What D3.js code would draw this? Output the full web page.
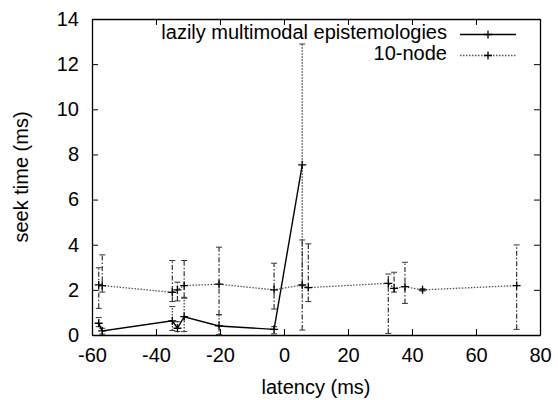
<!DOCTYPE html>
<html>
<head>
<meta charset="utf-8">
<script src="https://cdn.jsdelivr.net/npm/d3@7"></script>
<style>
  body { margin: 0; background: #fff; }
  text { font-family: "Liberation Sans", Arial, sans-serif; }
</style>
</head>
<body>
<div id="chart"></div>
<script>
// latency values (ms), shared by both series
const latency1 = [-57.9, -56.8, -34.9, -33.3, -31.2, -20.3, -3.1, 5.7];
const seek1 = [0.52, 0.18, 0.63, 0.30, 0.81, 0.40, 0.25, 7.54];
const low1 = [0.37, 0.04, 0.20, 0.15, 0.15, 0.02, 0.05, 2.18];
const high1 = [0.77, 0.30, 1.26, 0.59, 1.63, 0.90, 0.37, 12.89];

const latency2 = [-57.9, -56.8, -34.9, -33.3, -31.2, -20.3, -3.1, 5.7, 7.6, 32.6, 34.4, 37.8, 43.3, 72.7];
const seek2 = [2.22, 2.19, 1.89, 2.00, 2.19, 2.25, 2.00, 2.22, 2.10, 2.29, 2.07, 2.14, 2.00, 2.19];
const low2 = [1.18, 1.90, 1.48, 1.51, 1.67, 0.90, 1.15, 0.22, 1.48, 0.07, 1.90, 1.40, 1.95, 0.25];
const high2 = [2.98, 3.55, 3.30, 2.34, 3.30, 3.89, 3.18, 4.21, 4.04, 2.70, 2.78, 3.22, 2.05, 3.99];

const seriesNames = ["lazily multimodal epistemologies", "10-node"];
const xTicks = [-60, -40, -20, 0, 20, 40, 60, 80];
const yTicks = [0, 2, 4, 6, 8, 10, 12, 14];

const margin = { top: 19, right: 18, bottom: 65, left: 92 };
const W = 558, H = 400;
const width = W - margin.left - margin.right;
const height = H - margin.top - margin.bottom;

const svg = d3.select("#chart").append("svg")
    .attr("width", W)
    .attr("height", H);

const chart = svg.append("g")
    .attr("transform", `translate(${margin.left},${margin.top})`);

const x = d3.scaleLinear().domain([-60, 80]).range([0, width]);
const y = d3.scaleLinear().domain([0, 14]).range([height, 0]);

const toRows = (xs, ys, lo, hi) => xs.map((v, i) => ({ x: v, y: ys[i], lo: lo[i], hi: hi[i] }));
const rows1 = toRows(latency1, seek1, low1, high1);
const rows2 = toRows(latency2, seek2, low2, high2);

// plain hyphen for negatives, like the original
const fmt = d => String(d);

// axes: ticks point inward, mirrored on top and right
const styleAxis = g => {
    g.selectAll("text").style("font-size", "20px").attr("fill", "#000");
    g.selectAll("line").attr("stroke", "#000");
    g.select(".domain").attr("stroke", "#000").attr("stroke-width", 1.3);
};

chart.append("g")
    .attr("transform", `translate(0,${height})`)
    .call(d3.axisBottom(x).tickValues(xTicks).tickFormat(fmt).tickSizeInner(-6).tickSizeOuter(0).tickPadding(13))
    .call(styleAxis);

chart.append("g")
    .call(d3.axisTop(x).tickValues(xTicks).tickSizeInner(-6).tickSizeOuter(0).tickFormat(""))
    .call(styleAxis);

chart.append("g")
    .call(d3.axisLeft(y).tickValues(yTicks).tickFormat(fmt).tickSizeInner(-6).tickSizeOuter(0).tickPadding(13))
    .call(styleAxis);

chart.append("g")
    .attr("transform", `translate(${width},0)`)
    .call(d3.axisRight(y).tickValues(yTicks).tickSizeInner(-6).tickSizeOuter(0).tickFormat(""))
    .call(styleAxis);

// axis titles
svg.append("text")
    .attr("x", margin.left + width / 2)
    .attr("y", 394)
    .attr("text-anchor", "middle")
    .style("font-size", "20px")
    .text("latency (ms)");

svg.append("text")
    .attr("transform", `translate(28,${margin.top + height / 2}) rotate(-90)`)
    .attr("text-anchor", "middle")
    .style("font-size", "20px")
    .text("seek time (ms)");

const line = d3.line().x(d => x(d.x)).y(d => y(d.y));

function drawSeries(rows, lineStyle, barStyle) {
    const g = chart.append("g");

    const bars = g.selectAll(".err").data(rows).enter().append("g").attr("class", "err");
    bars.append("line")
        .attr("x1", d => x(d.x)).attr("x2", d => x(d.x))
        .attr("y1", d => y(d.lo)).attr("y2", d => y(d.hi))
        .call(barStyle);
    bars.append("line")
        .attr("x1", d => x(d.x) - 3).attr("x2", d => x(d.x) + 3)
        .attr("y1", d => y(d.hi)).attr("y2", d => y(d.hi))
        .attr("stroke", "#333").attr("stroke-width", 1);
    bars.append("line")
        .attr("x1", d => x(d.x) - 3).attr("x2", d => x(d.x) + 3)
        .attr("y1", d => y(d.lo)).attr("y2", d => y(d.lo))
        .attr("stroke", "#333").attr("stroke-width", 1);

    g.append("path")
        .datum(rows)
        .attr("fill", "none")
        .attr("d", line)
        .call(lineStyle);

    g.selectAll(".pt").data(rows).enter().append("path")
        .attr("class", "pt")
        .attr("d", d => `M${x(d.x) - 4},${y(d.y)}h8M${x(d.x)},${y(d.y) - 4}v8`)
        .attr("stroke", "#000").attr("stroke-width", 1.3);
}

const solid = s => s.attr("stroke", "#000").attr("stroke-width", 1.4);
const dotted = s => s.attr("stroke", "#555").attr("stroke-width", 1.3).attr("stroke-dasharray", "1.5,1.5");
const dotBar = s => s.attr("stroke", "#333").attr("stroke-width", 1.2).attr("stroke-dasharray", "1.5,1.5");
const dashDotBar = s => s.attr("stroke", "#333").attr("stroke-width", 1.2).attr("stroke-dasharray", "5,2,1.5,2");

drawSeries(rows1, solid, dotBar);
drawSeries(rows2, dotted, dashDotBar);

// legend
const legend = svg.append("g");
const legendStyles = [solid, dotted];
seriesNames.forEach((name, i) => {
    const by = 38.5 + i * 21;
    legend.append("text")
        .attr("x", 447)
        .attr("y", by)
        .attr("text-anchor", "end")
        .style("font-size", "20px")
        .text(name);
    legend.append("line")
        .attr("x1", 460).attr("x2", 516)
        .attr("y1", by - 4).attr("y2", by - 4)
        .call(legendStyles[i]);
    legend.append("path")
        .attr("d", `M484,${by - 4}h8M488,${by - 8}v8`)
        .attr("stroke", "#000").attr("stroke-width", 1.3);
});
</script>
</body>
</html>
